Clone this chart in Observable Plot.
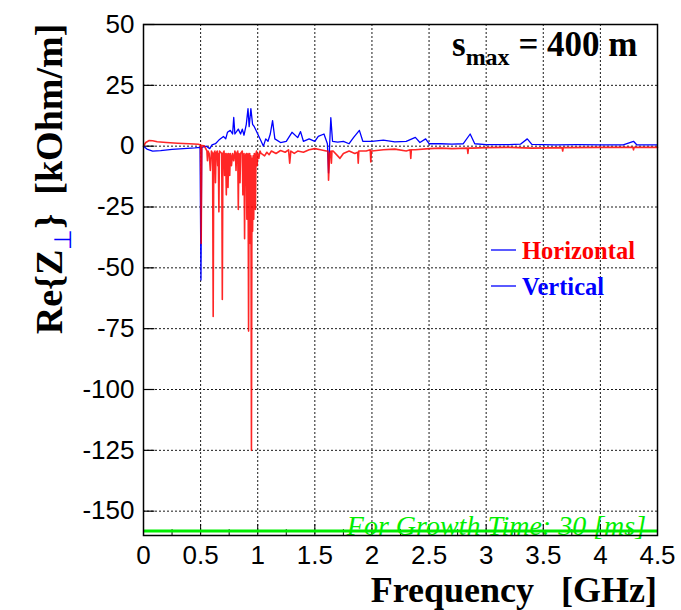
<!DOCTYPE html>
<html><head><meta charset="utf-8">
<script src="https://cdn.jsdelivr.net/npm/d3@7"></script>
<script src="https://cdn.jsdelivr.net/npm/@observablehq/plot@0.6"></script>
<style>body{margin:0;background:#fff}</style>
</head><body><div id="chart"></div>
<script>
// Horizontal (red) series: frequency [GHz], Re{Z} [kOhm/m]
const horizF = [0,0.02,0.05,0.08,0.12,0.2,0.3,0.4,0.48,0.5,0.505,0.51,0.53,0.545,0.555,0.56,0.565,0.575,0.585,0.595,0.605,0.61,0.615,0.625,0.63,0.635,0.645,0.65,0.655,0.66,0.665,0.685,0.69,0.695,0.705,0.71,0.715,0.72,0.725,0.73,0.735,0.74,0.745,0.75,0.755,0.76,0.765,0.77,0.78,0.79,0.8,0.805,0.81,0.815,0.825,0.83,0.835,0.84,0.845,0.85,0.865,0.87,0.875,0.88,0.885,0.89,0.9,0.905,0.91,0.915,0.92,0.925,0.93,0.935,0.94,0.945,0.95,0.955,0.96,0.965,0.97,0.975,0.98,0.985,0.99,0.995,1.0,1.01,1.02,1.03,1.06,1.08,1.1,1.12,1.16,1.2,1.24,1.27,1.28,1.29,1.32,1.35,1.4,1.45,1.5,1.55,1.6,1.615,1.62,1.63,1.64,1.645,1.65,1.66,1.7,1.72,1.75,1.8,1.85,1.875,1.88,1.885,1.9,1.95,1.985,1.99,1.995,2.0,2.1,2.2,2.3,2.335,2.34,2.345,2.38,2.5,2.6,2.7,2.835,2.84,2.845,2.88,3.0,3.2,3.4,3.665,3.67,3.675,3.7,4.0,4.285,4.29,4.295,4.32,4.5];
const horizV = [0,1.5,2.3,2.2,1.8,1.5,1.2,1.0,0.8,0.5,-40,0.3,0.2,-1,-2,-6,-2,-3,-10,-2,-3,-70,-3,-2,-15,-3,-2,-8,-3,-27,-2,-3,-63,-3,-2,-12,-3,-4,-20,-3,-5,-17,-3,-4,-12,-3,-4,-8,-3,-6,-2,-3,-10,-3,-2,-26,-3,-4,-15,-3,-2,-20,-4,-3,-38,-4,-3,-30,-4,-3,-76,-5,-3,-40,-4,-125,-5,-35,-4,-30,-3,-4,-26,-3,-2,-8,-3,-5,-2,-3,-4,-2.5,-3.5,-2,-3,-1.8,-2.5,-1.5,-7,-2,-3,-2,-2.5,-1.5,-1,-1.5,-2,-2,-14,-3,-2,-7,-2,-2,-4,-5,-3,-2,-3,-2.5,-7,-2,-2,-2,-1.5,-6.5,-2,-2,-1.5,-1.2,-2,-1.5,-5,-1.5,-1.5,-1,-0.8,-1,-0.8,-3,-0.8,-0.8,-0.6,-0.5,-0.8,-0.6,-2,-0.6,-0.6,-0.5,-0.5,-1.5,-0.5,-0.5,-0.5];
// Vertical (blue) series
const vertF = [0,0.03,0.08,0.15,0.25,0.35,0.45,0.495,0.503,0.51,0.55,0.58,0.6,0.63,0.66,0.7,0.72,0.735,0.76,0.78,0.79,0.8,0.83,0.85,0.865,0.88,0.9,0.915,0.925,0.94,0.955,0.97,1.0,1.03,1.05,1.07,1.09,1.11,1.13,1.15,1.2,1.25,1.3,1.35,1.375,1.4,1.45,1.5,1.53,1.58,1.61,1.62,1.63,1.64,1.655,1.7,1.75,1.8,1.84,1.89,1.92,2.0,2.1,2.2,2.3,2.38,2.42,2.47,2.5,2.6,2.7,2.8,2.86,2.9,3.0,3.2,3.3,3.36,3.4,3.6,3.8,4.0,4.2,4.29,4.32,4.5];
const vertV = [0,-1.2,-2,-1.8,-1.3,-1,-0.7,-0.5,-55,-0.5,0,-1,0.5,1,2.5,4,3,5.7,6.5,5,11.8,5,7,5,7,4.5,9,15.4,8,15.4,9,8,5,2,0,3,2,5,10.5,3,1.5,2,5.7,3.5,6,2,3,2,4,5,1,-11,1,11.7,2,1.7,2,1,3.6,6.5,2,2,2.5,1.8,2,3.6,1.5,3,1,1,0.8,1,5,1,0.6,0.6,0.8,3,0.7,0.5,0.6,0.5,0.5,2,0.5,0.5];
const xTicks = [0,0.5,1,1.5,2,2.5,3,3.5,4,4.5];
const xTickLabels = ["0","0.5","1","1.5","2","2.5","3","3.5","4","4.5"];
const xMinor = [0.25,0.75,1.25,1.75,2.25,2.75,3.25,3.75,4.25];
const yTicks = [-150,-125,-100,-75,-50,-25,0,25,50];
const yTickLabels = ["-150","-125","-100","-75","-50","-25","0","25","50"];
const growthLevel = [-158.2];
const growthLabel = "For Growth Time: 30 [ms]";

const horiz = horizF.map((f,i)=>({f, v: horizV[i]}));
const vert = vertF.map((f,i)=>({f, v: vertV[i]}));

const plot = Plot.plot({
  width: 681, height: 610,
  marginLeft: 143, marginRight: 24, marginTop: 24, marginBottom: 75,
  style: {fontFamily: "'Liberation Sans', Arial, sans-serif", background: "white"},
  x: {domain: [0, 4.5]},
  y: {domain: [-160, 50]},
  marks: [
    Plot.gridX(xTicks, {stroke: "black", strokeOpacity: 0.9, strokeDasharray: "2,2", strokeWidth: 1}),
    Plot.gridY(yTicks, {stroke: "black", strokeOpacity: 0.9, strokeDasharray: "2,2", strokeWidth: 1}),
    Plot.ruleX(xMinor, {y1: -160, y2: -157.6, stroke: "black", strokeWidth: 1}),
    Plot.ruleX(xTicks, {y1: -160, y2: -155.5, stroke: "black", strokeWidth: 1}),
    Plot.ruleY(yTicks, {x1: 0, x2: 0.1, stroke: "black", strokeWidth: 1.2}),
    Plot.line(vert, {x: "f", y: "v", stroke: "#0000ff", strokeWidth: 1.3}),
    Plot.line(horiz, {x: "f", y: "v", stroke: "#ff0000", strokeWidth: 1.6, strokeOpacity: 0.85}),
    Plot.ruleY(growthLevel, {stroke: "#00ee00", strokeWidth: 3}),
    Plot.text([growthLabel], {x: 4.4, y: growthLevel[0], text: d => d, textAnchor: "end", lineAnchor: "bottom", dy: 4, fill: "#00ee00", fontSize: 28, fontStyle: "italic", fontFamily: "'Liberation Serif', 'Times New Roman', serif"}),
    Plot.frame({stroke: "black", strokeWidth: 1.5}),
    Plot.axisX(xTicks, {tickSize: 0, tickPadding: 10, fontSize: 26, label: null, tickFormat: (d,i) => xTickLabels[i]}),
    Plot.axisY(yTicks, {tickSize: 0, tickPadding: 9, fontSize: 26, label: null, tickFormat: (d,i) => yTickLabels[i]})
  ]
});
document.getElementById("chart").appendChild(plot);

const svg = d3.select(plot);
const serif = "'Liberation Serif', 'Times New Roman', serif";
// x title
svg.append("text").attr("x", 657).attr("y", 602).attr("text-anchor", "end")
  .attr("font-family", serif).attr("font-weight", "bold").attr("font-size", 36)
  .attr("xml:space", "preserve").text("Frequency   [GHz]");
// y title
const yt = svg.append("text").attr("transform", "translate(62,179) rotate(-90)").attr("text-anchor", "middle")
  .attr("font-family", serif).attr("font-weight", "bold").attr("font-size", 38).attr("xml:space", "preserve");
yt.append("tspan").text("Re{Z");
yt.append("tspan").attr("font-size", 24).attr("font-weight", "normal").attr("fill", "#0000ff").attr("dy", 9).text("\u22A5");
yt.append("tspan").attr("dy", -9).text("}  [kOhm/m]");
// s_max annotation
const st = svg.append("text").attr("x", 452).attr("y", 56).attr("text-anchor", "start").attr("font-family", serif).attr("font-weight", "bold").attr("font-size", 35).attr("xml:space", "preserve");
st.append("tspan").text("s");
st.append("tspan").attr("font-size", 24).attr("dy", 9).text("max");
st.append("tspan").attr("dy", -9).text(" = 400 m");
// legend
const legend = [{label: "Horizontal", color: "#ff0000", y: 251}, {label: "Vertical", color: "#0000ff", y: 287}];
legend.forEach(d => {
  svg.append("line").attr("x1", 491).attr("x2", 516).attr("y1", d.y - 1).attr("y2", d.y - 1).attr("stroke", "#0000ff").attr("stroke-width", 1.3);
  svg.append("text").attr("x", 522).attr("y", d.y + 8).attr("text-anchor", "start").attr("font-family", serif).attr("font-weight", "bold").attr("font-size", 24.5).attr("fill", d.color).text(d.label);
});
</script>
</body></html>
